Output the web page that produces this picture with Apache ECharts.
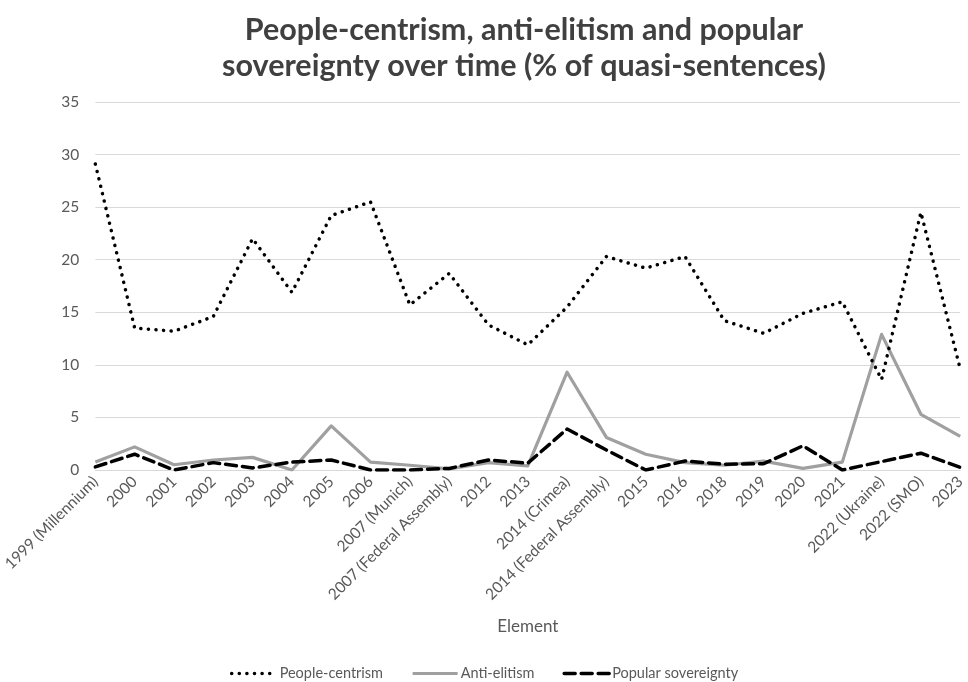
<!DOCTYPE html>
<html>
<head>
<meta charset="utf-8">
<script src="https://cdn.jsdelivr.net/npm/echarts@6/dist/echarts.min.js"></script>
<style>html,body{margin:0;padding:0;background:#fff}#c{width:968px;height:682px}</style>
</head>
<body>
<div id="c"></div>
<script>
const categories = ["1999 (Millennium)","2000","2001","2002","2003","2004","2005","2006","2007 (Munich)","2007 (Federal Assembly)","2012","2013","2014 (Crimea)","2014 (Federal Assembly)","2015","2016","2018","2019","2020","2021","2022 (Ukraine)","2022 (SMO)","2023"];
const peopleCentrism = [29.1,13.5,13.2,14.6,22.0,16.9,24.2,25.5,15.7,18.7,13.8,11.9,15.5,20.3,19.2,20.3,14.2,13.0,14.9,16.0,8.6,24.5,9.6];
const antiElitism = [0.75,2.2,0.5,0.95,1.2,0.0,4.2,0.75,0.45,0.1,0.7,0.4,9.3,3.1,1.5,0.7,0.45,0.85,0.15,0.75,12.9,5.3,3.2];
const popularSovereignty = [0.3,1.5,0.0,0.7,0.2,0.75,0.95,0.0,0.0,0.15,0.95,0.65,3.9,1.9,0.0,0.85,0.55,0.6,2.3,0.0,0.8,1.6,0.25];
const yTicks = [0,5,10,15,20,25,30,35];

const FONT = 'Lato, "Open Sans", sans-serif';
const dotStyle = {color: '#000000', width: 3.5, type: [0.1, 7.5], cap: 'round', join: 'round'};
const solidStyle = {color: '#a0a0a0', width: 3.2, type: 'solid', join: 'round'};
const dashStyle = {color: '#000000', width: 3.5, type: [11, 6], cap: 'round', join: 'round'};

const chart = echarts.init(document.getElementById('c'), null, {renderer:'canvas'});
chart.setOption({
  animation: false,
  backgroundColor: '#ffffff',
  title: {
    text: 'People-centrism, anti-elitism and popular\nsovereignty over time (% of quasi-sentences)',
    left: 519, top: 7, textAlign: 'center',
    textStyle: {fontFamily: FONT, fontSize: 30.5, fontWeight: 'bold', color: '#404040', lineHeight: 36}
  },
  legend: {
    top: 661, left: 'center',
    itemWidth: 45, itemHeight: 10, itemGap: 28,
    itemStyle: {color: 'transparent', borderWidth: 0, opacity: 0},
    textStyle: {fontFamily: FONT, fontSize: 14.5, color: '#595959', padding: [0,0,0,-2]},
    data: [
      {name: 'People-centrism', lineStyle: dotStyle},
      {name: 'Anti-elitism', lineStyle: solidStyle},
      {name: 'Popular sovereignty', lineStyle: dashStyle}
    ]
  },
  grid: {left: 95, right: 5, top: 102, bottom: 212, containLabel: false},
  xAxis: {
    type: 'category', data: categories, boundaryGap: false,
    name: 'Element', nameLocation: 'middle', nameGap: 148,
    nameTextStyle: {fontFamily: FONT, fontSize: 17, color: '#595959'},
    axisLine: {show: true, lineStyle: {color: '#d9d9d9', width: 1}},
    axisTick: {show: false},
    axisLabel: {interval: 0, rotate: 45, margin: 9, fontFamily: FONT, fontSize: 15.5, color: '#595959'}
  },
  yAxis: {
    type: 'value', min: yTicks[0], max: yTicks[yTicks.length-1], interval: 5,
    axisLine: {show: false}, axisTick: {show: false},
    axisLabel: {margin: 16, fontFamily: FONT, fontSize: 15.5, color: '#595959'},
    splitLine: {lineStyle: {color: '#d9d9d9', width: 1}}
  },
  series: [
    {name: 'People-centrism', type: 'line', data: peopleCentrism, symbol: 'none', z: 3,
     itemStyle: {color: '#000000'}, lineStyle: dotStyle},
    {name: 'Anti-elitism', type: 'line', data: antiElitism, symbol: 'none', z: 2,
     itemStyle: {color: '#a0a0a0'}, lineStyle: solidStyle},
    {name: 'Popular sovereignty', type: 'line', data: popularSovereignty, symbol: 'none', z: 4,
     itemStyle: {color: '#000000'}, lineStyle: dashStyle}
  ]
});
</script>
</body>
</html>
